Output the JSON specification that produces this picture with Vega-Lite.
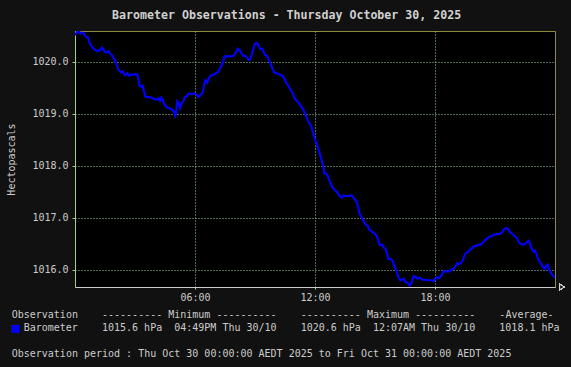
{
  "$schema": "https://vega.github.io/schema/vega-lite/v6.json",
  "background": "#111111",
  "padding": {"left": 6, "top": 9, "right": 6, "bottom": 10},
  "title": {
    "text": "Barometer Observations - Thursday October 30, 2025",
    "anchor": "middle",
    "frame": "bounds",
    "font": "DejaVu Sans Mono",
    "fontSize": 11.6,
    "fontWeight": "bold",
    "color": "#d0d0d0",
    "offset": 9
  },
  "spacing": 7,
  "datasets": {
    "baro": [
      {"t":"2025-10-30T00:00","p":1020.51},{"t":"2025-10-30T00:06","p":1020.57},{"t":"2025-10-30T00:13","p":1020.57},{"t":"2025-10-30T00:17","p":1020.54},
      {"t":"2025-10-30T00:21","p":1020.56},{"t":"2025-10-30T00:26","p":1020.55},{"t":"2025-10-30T00:29","p":1020.51},{"t":"2025-10-30T00:33","p":1020.48},
      {"t":"2025-10-30T00:39","p":1020.46},{"t":"2025-10-30T00:43","p":1020.38},{"t":"2025-10-30T00:47","p":1020.32},{"t":"2025-10-30T00:53","p":1020.27},
      {"t":"2025-10-30T00:57","p":1020.24},{"t":"2025-10-30T01:03","p":1020.22},{"t":"2025-10-30T01:09","p":1020.20},{"t":"2025-10-30T01:15","p":1020.22},
      {"t":"2025-10-30T01:21","p":1020.27},{"t":"2025-10-30T01:25","p":1020.24},{"t":"2025-10-30T01:29","p":1020.19},{"t":"2025-10-30T01:35","p":1020.18},
      {"t":"2025-10-30T01:41","p":1020.20},{"t":"2025-10-30T01:45","p":1020.16},{"t":"2025-10-30T01:51","p":1020.12},{"t":"2025-10-30T01:57","p":1020.06},
      {"t":"2025-10-30T02:01","p":1020.00},{"t":"2025-10-30T02:05","p":1019.94},{"t":"2025-10-30T02:11","p":1019.84},{"t":"2025-10-30T02:17","p":1019.80},
      {"t":"2025-10-30T02:23","p":1019.81},{"t":"2025-10-30T02:27","p":1019.76},{"t":"2025-10-30T02:31","p":1019.74},{"t":"2025-10-30T02:37","p":1019.78},
      {"t":"2025-10-30T02:43","p":1019.73},{"t":"2025-10-30T02:49","p":1019.75},{"t":"2025-10-30T02:55","p":1019.75},{"t":"2025-10-30T03:01","p":1019.76},
      {"t":"2025-10-30T03:07","p":1019.75},{"t":"2025-10-30T03:11","p":1019.65},{"t":"2025-10-30T03:13","p":1019.54},{"t":"2025-10-30T03:19","p":1019.52},
      {"t":"2025-10-30T03:23","p":1019.54},{"t":"2025-10-30T03:27","p":1019.43},{"t":"2025-10-30T03:31","p":1019.33},{"t":"2025-10-30T03:37","p":1019.32},
      {"t":"2025-10-30T03:43","p":1019.32},{"t":"2025-10-30T03:49","p":1019.31},{"t":"2025-10-30T03:55","p":1019.29},{"t":"2025-10-30T04:01","p":1019.28},
      {"t":"2025-10-30T04:07","p":1019.27},{"t":"2025-10-30T04:11","p":1019.30},{"t":"2025-10-30T04:15","p":1019.25},{"t":"2025-10-30T04:19","p":1019.31},
      {"t":"2025-10-30T04:23","p":1019.27},{"t":"2025-10-30T04:27","p":1019.19},{"t":"2025-10-30T04:33","p":1019.14},{"t":"2025-10-30T04:39","p":1019.11},
      {"t":"2025-10-30T04:45","p":1019.10},{"t":"2025-10-30T04:51","p":1019.08},{"t":"2025-10-30T04:57","p":1019.04},{"t":"2025-10-30T05:01","p":1018.96},
      {"t":"2025-10-30T05:03","p":1019.00},{"t":"2025-10-30T05:07","p":1019.24},{"t":"2025-10-30T05:11","p":1019.20},{"t":"2025-10-30T05:15","p":1019.11},
      {"t":"2025-10-30T05:19","p":1019.20},{"t":"2025-10-30T05:25","p":1019.24},{"t":"2025-10-30T05:29","p":1019.32},{"t":"2025-10-30T05:35","p":1019.33},
      {"t":"2025-10-30T05:41","p":1019.39},{"t":"2025-10-30T05:47","p":1019.38},{"t":"2025-10-30T05:53","p":1019.38},{"t":"2025-10-30T05:59","p":1019.39},
      {"t":"2025-10-30T06:05","p":1019.36},{"t":"2025-10-30T06:11","p":1019.32},{"t":"2025-10-30T06:17","p":1019.36},{"t":"2025-10-30T06:23","p":1019.41},
      {"t":"2025-10-30T06:27","p":1019.54},{"t":"2025-10-30T06:31","p":1019.64},{"t":"2025-10-30T06:37","p":1019.60},{"t":"2025-10-30T06:41","p":1019.68},
      {"t":"2025-10-30T06:47","p":1019.73},{"t":"2025-10-30T06:53","p":1019.75},{"t":"2025-10-30T06:59","p":1019.76},{"t":"2025-10-30T07:05","p":1019.79},
      {"t":"2025-10-30T07:11","p":1019.81},{"t":"2025-10-30T07:17","p":1019.90},{"t":"2025-10-30T07:23","p":1019.97},{"t":"2025-10-30T07:29","p":1020.11},
      {"t":"2025-10-30T07:35","p":1020.10},{"t":"2025-10-30T07:41","p":1020.11},{"t":"2025-10-30T07:47","p":1020.10},{"t":"2025-10-30T07:55","p":1020.11},
      {"t":"2025-10-30T08:02","p":1020.17},{"t":"2025-10-30T08:08","p":1020.25},{"t":"2025-10-30T08:14","p":1020.22},{"t":"2025-10-30T08:20","p":1020.16},
      {"t":"2025-10-30T08:26","p":1020.11},{"t":"2025-10-30T08:32","p":1020.11},{"t":"2025-10-30T08:38","p":1020.06},{"t":"2025-10-30T08:42","p":1020.03},
      {"t":"2025-10-30T08:46","p":1020.06},{"t":"2025-10-30T08:50","p":1020.13},{"t":"2025-10-30T08:54","p":1020.22},{"t":"2025-10-30T08:58","p":1020.32},
      {"t":"2025-10-30T09:02","p":1020.35},{"t":"2025-10-30T09:06","p":1020.36},{"t":"2025-10-30T09:10","p":1020.32},{"t":"2025-10-30T09:16","p":1020.24},
      {"t":"2025-10-30T09:22","p":1020.25},{"t":"2025-10-30T09:26","p":1020.19},{"t":"2025-10-30T09:30","p":1020.13},{"t":"2025-10-30T09:36","p":1020.11},
      {"t":"2025-10-30T09:40","p":1020.06},{"t":"2025-10-30T09:44","p":1020.00},{"t":"2025-10-30T09:48","p":1019.94},{"t":"2025-10-30T09:52","p":1019.87},
      {"t":"2025-10-30T09:58","p":1019.79},{"t":"2025-10-30T10:04","p":1019.78},{"t":"2025-10-30T10:10","p":1019.76},{"t":"2025-10-30T10:16","p":1019.75},
      {"t":"2025-10-30T10:22","p":1019.73},{"t":"2025-10-30T10:28","p":1019.68},{"t":"2025-10-30T10:34","p":1019.59},{"t":"2025-10-30T10:40","p":1019.54},
      {"t":"2025-10-30T10:46","p":1019.47},{"t":"2025-10-30T10:52","p":1019.41},{"t":"2025-10-30T10:58","p":1019.31},{"t":"2025-10-30T11:04","p":1019.25},
      {"t":"2025-10-30T11:10","p":1019.22},{"t":"2025-10-30T11:16","p":1019.16},{"t":"2025-10-30T11:22","p":1019.11},{"t":"2025-10-30T11:28","p":1019.03},
      {"t":"2025-10-30T11:34","p":1018.95},{"t":"2025-10-30T11:40","p":1018.85},{"t":"2025-10-30T11:46","p":1018.79},{"t":"2025-10-30T11:50","p":1018.73},
      {"t":"2025-10-30T11:54","p":1018.63},{"t":"2025-10-30T12:00","p":1018.50},{"t":"2025-10-30T12:06","p":1018.41},{"t":"2025-10-30T12:12","p":1018.28},
      {"t":"2025-10-30T12:18","p":1018.15},{"t":"2025-10-30T12:22","p":1018.06},{"t":"2025-10-30T12:26","p":1017.96},{"t":"2025-10-30T12:28","p":1017.85},
      {"t":"2025-10-30T12:34","p":1017.85},{"t":"2025-10-30T12:40","p":1017.77},{"t":"2025-10-30T12:46","p":1017.68},{"t":"2025-10-30T12:50","p":1017.61},
      {"t":"2025-10-30T12:56","p":1017.56},{"t":"2025-10-30T13:02","p":1017.52},{"t":"2025-10-30T13:08","p":1017.48},{"t":"2025-10-30T13:14","p":1017.42},
      {"t":"2025-10-30T13:20","p":1017.39},{"t":"2025-10-30T13:26","p":1017.43},{"t":"2025-10-30T13:32","p":1017.42},{"t":"2025-10-30T13:40","p":1017.42},
      {"t":"2025-10-30T13:46","p":1017.43},{"t":"2025-10-30T13:52","p":1017.42},{"t":"2025-10-30T13:58","p":1017.36},{"t":"2025-10-30T14:04","p":1017.32},
      {"t":"2025-10-30T14:10","p":1017.20},{"t":"2025-10-30T14:14","p":1017.07},{"t":"2025-10-30T14:20","p":1017.01},{"t":"2025-10-30T14:26","p":1016.94},
      {"t":"2025-10-30T14:32","p":1016.87},{"t":"2025-10-30T14:38","p":1016.85},{"t":"2025-10-30T14:42","p":1016.78},{"t":"2025-10-30T14:48","p":1016.75},
      {"t":"2025-10-30T14:54","p":1016.72},{"t":"2025-10-30T15:00","p":1016.69},{"t":"2025-10-30T15:06","p":1016.64},{"t":"2025-10-30T15:10","p":1016.56},
      {"t":"2025-10-30T15:14","p":1016.48},{"t":"2025-10-30T15:22","p":1016.48},{"t":"2025-10-30T15:26","p":1016.43},{"t":"2025-10-30T15:32","p":1016.40},
      {"t":"2025-10-30T15:36","p":1016.31},{"t":"2025-10-30T15:40","p":1016.21},{"t":"2025-10-30T15:46","p":1016.21},{"t":"2025-10-30T15:52","p":1016.18},
      {"t":"2025-10-30T15:56","p":1016.11},{"t":"2025-10-30T16:02","p":1016.02},{"t":"2025-10-30T16:06","p":1015.94},{"t":"2025-10-30T16:10","p":1015.86},
      {"t":"2025-10-30T16:16","p":1015.80},{"t":"2025-10-30T16:22","p":1015.81},{"t":"2025-10-30T16:26","p":1015.83},{"t":"2025-10-30T16:32","p":1015.76},
      {"t":"2025-10-30T16:38","p":1015.75},{"t":"2025-10-30T16:44","p":1015.70},{"t":"2025-10-30T16:48","p":1015.73},{"t":"2025-10-30T16:52","p":1015.80},
      {"t":"2025-10-30T16:56","p":1015.88},{"t":"2025-10-30T17:02","p":1015.86},{"t":"2025-10-30T17:08","p":1015.83},{"t":"2025-10-30T17:14","p":1015.85},
      {"t":"2025-10-30T17:20","p":1015.82},{"t":"2025-10-30T17:26","p":1015.80},{"t":"2025-10-30T17:32","p":1015.81},{"t":"2025-10-30T17:38","p":1015.80},
      {"t":"2025-10-30T17:44","p":1015.80},{"t":"2025-10-30T17:50","p":1015.80},{"t":"2025-10-30T17:56","p":1015.78},{"t":"2025-10-30T18:00","p":1015.83},
      {"t":"2025-10-30T18:06","p":1015.86},{"t":"2025-10-30T18:12","p":1015.84},{"t":"2025-10-30T18:18","p":1015.88},{"t":"2025-10-30T18:22","p":1015.92},
      {"t":"2025-10-30T18:26","p":1015.97},{"t":"2025-10-30T18:32","p":1015.97},{"t":"2025-10-30T18:38","p":1015.97},{"t":"2025-10-30T18:44","p":1015.97},
      {"t":"2025-10-30T18:50","p":1016.01},{"t":"2025-10-30T18:56","p":1016.02},{"t":"2025-10-30T19:02","p":1016.07},{"t":"2025-10-30T19:06","p":1016.13},
      {"t":"2025-10-30T19:12","p":1016.11},{"t":"2025-10-30T19:18","p":1016.13},{"t":"2025-10-30T19:24","p":1016.19},{"t":"2025-10-30T19:28","p":1016.27},
      {"t":"2025-10-30T19:32","p":1016.32},{"t":"2025-10-30T19:38","p":1016.34},{"t":"2025-10-30T19:44","p":1016.38},{"t":"2025-10-30T19:50","p":1016.41},
      {"t":"2025-10-30T19:56","p":1016.45},{"t":"2025-10-30T20:02","p":1016.45},{"t":"2025-10-30T20:08","p":1016.48},{"t":"2025-10-30T20:14","p":1016.48},
      {"t":"2025-10-30T20:20","p":1016.50},{"t":"2025-10-30T20:26","p":1016.54},{"t":"2025-10-30T20:32","p":1016.58},{"t":"2025-10-30T20:38","p":1016.61},
      {"t":"2025-10-30T20:44","p":1016.64},{"t":"2025-10-30T20:50","p":1016.64},{"t":"2025-10-30T20:56","p":1016.68},{"t":"2025-10-30T21:02","p":1016.68},
      {"t":"2025-10-30T21:08","p":1016.69},{"t":"2025-10-30T21:14","p":1016.69},{"t":"2025-10-30T21:20","p":1016.71},{"t":"2025-10-30T21:26","p":1016.77},
      {"t":"2025-10-30T21:32","p":1016.80},{"t":"2025-10-30T21:38","p":1016.80},{"t":"2025-10-30T21:42","p":1016.75},{"t":"2025-10-30T21:48","p":1016.71},
      {"t":"2025-10-30T21:54","p":1016.68},{"t":"2025-10-30T22:00","p":1016.64},{"t":"2025-10-30T22:06","p":1016.61},{"t":"2025-10-30T22:12","p":1016.53},
      {"t":"2025-10-30T22:18","p":1016.50},{"t":"2025-10-30T22:24","p":1016.48},{"t":"2025-10-30T22:30","p":1016.50},{"t":"2025-10-30T22:36","p":1016.53},
      {"t":"2025-10-30T22:40","p":1016.56},{"t":"2025-10-30T22:44","p":1016.53},{"t":"2025-10-30T22:48","p":1016.43},{"t":"2025-10-30T22:52","p":1016.39},
      {"t":"2025-10-30T22:56","p":1016.35},{"t":"2025-10-30T23:00","p":1016.37},{"t":"2025-10-30T23:04","p":1016.31},{"t":"2025-10-30T23:08","p":1016.23},
      {"t":"2025-10-30T23:14","p":1016.15},{"t":"2025-10-30T23:20","p":1016.10},{"t":"2025-10-30T23:24","p":1016.05},{"t":"2025-10-30T23:30","p":1016.02},
      {"t":"2025-10-30T23:34","p":1016.08},{"t":"2025-10-30T23:38","p":1016.10},{"t":"2025-10-30T23:42","p":1016.02},{"t":"2025-10-30T23:46","p":1015.96},
      {"t":"2025-10-30T23:50","p":1015.92},{"t":"2025-10-30T23:56","p":1015.88},{"t":"2025-10-30T23:59","p":1015.84}
    ],
    "legend": [
      {"line": 1, "text": "Observation\u00a0\u00a0\u00a0\u00a0---------- Minimum ----------\u00a0\u00a0\u00a0\u00a0---------- Maximum ----------\u00a0\u00a0\u00a0\u00a0-Average-"},
      {"line": 2, "text": "Barometer\u00a0\u00a0\u00a0\u00a01015.6 hPa\u00a0\u00a004:49PM Thu 30/10\u00a0\u00a0\u00a0\u00a01020.6 hPa\u00a0\u00a012:07AM Thu 30/10\u00a0\u00a0\u00a0\u00a01018.1 hPa"},
      {"line": 4, "text": "Observation period : Thu Oct 30 00:00:00 AEDT 2025 to Fri Oct 31 00:00:00 AEDT 2025"}
    ],
    "swatch": [
      {"line": 2, "series": "Barometer"}
    ]
  },
  "vconcat": [
    {
      "width": 480,
      "height": 256,
      "view": {"fill": "#000000", "stroke": "#8a8a3a", "strokeWidth": 1},
      "data": {"name": "baro"},
      "layer": [
        {
          "mark": {"type": "line", "color": "#0000ff", "strokeWidth": 2.1, "interpolate": "linear", "clip": true},
          "encoding": {
            "x": {
              "field": "t", "type": "temporal",
              "scale": {"domain": [{"year": 2025, "month": 10, "date": 30, "hours": 0}, {"year": 2025, "month": 10, "date": 31, "hours": 0}]},
              "axis": {
                "title": null,
                "values": [{"year": 2025, "month": 10, "date": 30, "hours": 6}, {"year": 2025, "month": 10, "date": 30, "hours": 12}, {"year": 2025, "month": 10, "date": 30, "hours": 18}],
                "format": "%H:%M",
                "labelFont": "DejaVu Sans Mono", "labelFontSize": 10, "labelColor": "#cccccc",
                "labelFlush": false,
                "domainColor": "#cccccc", "domainWidth": 1,
                "tickColor": "#a0d0a0", "tickSize": 2, "labelPadding": 3,
                "grid": true, "gridColor": "#a0d0a0", "gridDash": [1, 2], "gridWidth": 1
              }
            },
            "y": {
              "field": "p", "type": "quantitative",
              "scale": {"domain": [1015.67, 1020.59], "nice": false, "zero": false},
              "axis": {
                "title": "Hectopascals",
                "titleFont": "DejaVu Sans Mono", "titleFontSize": 10, "titleFontWeight": "normal", "titleColor": "#cccccc", "titlePadding": 15,
                "values": [1016, 1017, 1018, 1019, 1020],
                "format": ".1f",
                "labelFont": "DejaVu Sans Mono", "labelFontSize": 10, "labelColor": "#cccccc",
                "domainColor": "#9fcf8f", "domainWidth": 1,
                "tickColor": "#9fcf8f", "tickSize": 3, "labelPadding": 4,
                "grid": true, "gridColor": "#a0d0a0", "gridDash": [1, 2], "gridWidth": 1
              }
            }
          }
        },
        {
          "mark": {"type": "point", "shape": "triangle-right", "filled": true, "fill": "#111111", "stroke": "#dddddd", "strokeWidth": 1, "size": 30, "xOffset": 7, "clip": false, "opacity": 1},
          "encoding": {
            "x": {"datum": {"year": 2025, "month": 10, "date": 31, "hours": 0}, "type": "temporal"},
            "y": {"datum": 1015.67, "type": "quantitative"}
          }
        }
      ]
    },
    {
      "width": 2,
      "height": 38.6,
      "view": {"stroke": null, "fill": null},
      "data": {"name": "legend"},
      "layer": [
        {
          "transform": [{"filter": "datum.line != 2"}],
          "mark": {"type": "text", "align": "left", "baseline": "middle", "font": "DejaVu Sans Mono", "fontSize": 10, "color": "#cccccc", "dx": -64.3},
          "encoding": {
            "y": {"field": "line", "type": "ordinal", "scale": {"type": "point", "domain": [1, 2, 3, 4], "padding": 0}, "axis": null},
            "text": {"field": "text"}
          }
        },
        {
          "transform": [{"filter": "datum.line == 2"}],
          "mark": {"type": "text", "align": "left", "baseline": "middle", "font": "DejaVu Sans Mono", "fontSize": 10, "color": "#cccccc", "dx": -52.3},
          "encoding": {
            "y": {"field": "line", "type": "ordinal", "scale": {"type": "point", "domain": [1, 2, 3, 4], "padding": 0}, "axis": null},
            "text": {"field": "text"}
          }
        },
        {
          "data": {"name": "swatch"},
          "mark": {"type": "text", "align": "left", "baseline": "middle", "font": "DejaVu Sans Mono", "fontSize": 13, "text": "\u25a0", "dx": -64},
          "encoding": {
            "y": {"field": "line", "type": "ordinal", "scale": {"type": "point", "domain": [1, 2, 3, 4], "padding": 0}, "axis": null},
            "color": {"field": "series", "type": "nominal", "scale": {"range": ["#0000ff"]}, "legend": null}
          }
        }
      ]
    }
  ],
  "config": {
    "font": "DejaVu Sans Mono",
    "view": {"stroke": null}
  }
}
